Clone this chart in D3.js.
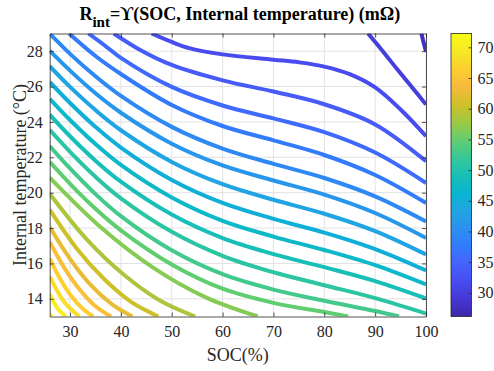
<!DOCTYPE html>
<html>
<head>
<meta charset="utf-8">
<script src="https://cdn.jsdelivr.net/npm/d3@7"></script>
<style>
  body { margin: 0; background: #fff; }
  svg { display: block; }
  text { font-family: "Liberation Serif", "Times New Roman", serif; fill: #262626; }
</style>
</head>
<body>
<svg id="chart" width="494" height="371"></svg>
<script>
// Tick labels
const socTicks = [30, 40, 50, 60, 70, 80, 90, 100];
const tempTicks = [14, 16, 18, 20, 22, 24, 26, 28];
const cbarTicks = [30, 35, 40, 45, 50, 55, 60, 65, 70];

// Axis ranges
const socDomain = [26, 100];
const tempDomain = [13, 29];
const cbarDomain = [26.15, 72.25];

// Contour levels (mOhm), low -> high
const levels = [28.0, 29.9, 31.8, 33.7, 35.7, 37.6, 39.5, 41.4, 43.3, 45.2, 47.1, 49.0,
                51.0, 52.9, 54.8, 56.7, 58.6, 60.5, 62.4, 64.3, 66.3, 68.2, 70.1, 72.0];

// Traced contour lines, [SOC, temperature] pairs, one list per level
const contourPaths = [
  [[99.1, 29], [99.5, 28.52], [100, 27.99]],
  [[88.6, 29], [91.3, 28.07], [94.3, 26.99], [97.2, 25.98], [100, 24.98]],
  [[46.05, 29], [50, 28.52], [53.6, 28.16], [60, 27.82], [70, 27.52], [75, 27.37], [80, 27.13], [85, 26.7], [90, 25.95], [95, 24.7], [100, 23.19]],
  [[38.6, 29], [43.8, 28.07], [50, 27.22], [60, 26.35], [70, 25.72], [80, 25.0], [90, 23.86], [100, 21.78]],
  [[33.6, 29], [36.7, 28.35], [40, 27.62], [50, 25.98], [60, 24.93], [70, 24.20], [80, 23.42], [90, 22.27], [100, 20.55]],
  [[29.8, 29], [35, 27.73], [40, 26.71], [50, 24.96], [60, 23.77], [70, 22.96], [80, 22.13], [90, 21.0], [100, 19.42]],
  [[26, 28.99], [30, 27.85], [35, 26.58], [40, 25.47], [50, 23.72], [60, 22.49], [70, 21.63], [80, 20.83], [90, 19.79], [100, 18.37]],
  [[26, 28.03], [30, 26.90], [35, 25.62], [40, 24.52], [50, 22.77], [60, 21.54], [70, 20.69], [80, 19.89], [90, 18.85], [100, 17.44]],
  [[26, 27.15], [30, 25.98], [35, 24.67], [40, 23.53], [50, 21.74], [60, 20.48], [70, 19.60], [80, 18.81], [90, 17.83], [100, 16.51]],
  [[26, 26.26], [30, 25.07], [35, 23.72], [40, 22.55], [50, 20.72], [60, 19.42], [70, 18.52], [80, 17.74], [90, 16.81], [100, 15.60]],
  [[26, 25.31], [30, 24.11], [35, 22.75], [40, 21.57], [50, 19.73], [60, 18.41], [70, 17.52], [80, 16.76], [90, 15.90], [100, 14.81]],
  [[26, 24.41], [30, 23.19], [35, 21.81], [40, 20.62], [50, 18.76], [60, 17.43], [70, 16.53], [80, 15.79], [90, 15.00], [100, 14.02]],
  [[26, 23.55], [30, 22.31], [35, 20.90], [40, 19.68], [50, 17.79], [60, 16.43], [70, 15.50], [80, 14.77], [90, 14.04], [100, 13.17]],
  [[26, 22.64], [30, 21.37], [35, 19.92], [40, 18.67], [50, 16.74], [60, 15.39], [70, 14.52], [80, 13.89], [90, 13.31], [94.7, 13.0]],
  [[26, 21.74], [30, 20.50], [35, 19.09], [40, 17.87], [50, 15.94], [60, 14.57], [70, 13.77], [80, 13.25], [84.7, 13.0]],
  [[26, 20.85], [36.2, 18.0], [46.4, 15.75], [56.7, 14.08], [66.9, 13.0]],
  [[26, 19.94], [33.1, 17.42], [40.3, 15.43], [47.4, 13.95], [54.6, 13.0]],
  [[26, 19.04], [31.3, 16.85], [36.7, 15.12], [42.0, 13.83], [47.35, 13.0]],
  [[26, 18.06], [30.1, 16.22], [34.1, 14.77], [38.2, 13.70], [42.24, 13.0]],
  [[26, 17.21], [29.0, 15.69], [32.0, 14.48], [35.0, 13.58], [38.05, 13.0]],
  [[26, 16.27], [28.14, 15.08], [30.29, 14.14], [32.43, 13.45], [34.57, 13.0]],
  [[26, 15.27], [28.91, 13.80], [31.82, 13.0]],
  [[26, 14.27], [27.57, 13.45], [29.15, 13.0]],
  [[26, 13.16], [26.35, 13.0]]
];

// parula colormap stops (MATLAB)
const parula = [
  [0.2422, 0.1504, 0.6603], [0.2706, 0.2147, 0.8364], [0.2813, 0.3006, 0.9414],
  [0.2699, 0.3892, 0.9906], [0.1963, 0.4847, 0.9892], [0.1687, 0.5703, 0.9359],
  [0.1248, 0.6459, 0.8883], [0.0297, 0.7082, 0.8163], [0.0964, 0.7500, 0.7120],
  [0.2161, 0.7843, 0.5923], [0.3909, 0.8029, 0.4354], [0.6174, 0.7876, 0.2612],
  [0.8203, 0.7498, 0.1535], [0.9728, 0.7298, 0.2394], [0.9892, 0.8136, 0.1885],
  [0.9631, 0.9135, 0.1423], [0.9769, 0.9839, 0.0805]
].map(c => d3.rgb(c[0] * 255, c[1] * 255, c[2] * 255).formatHex());

const width = 494, height = 371;
const margin = { top: 33.5, right: 68, bottom: 54.5, left: 49.7 };
const innerW = width - margin.left - margin.right;
const innerH = height - margin.top - margin.bottom;

const svg = d3.select('#chart');

const x = d3.scaleLinear().domain(socDomain).range([0, innerW]);
const y = d3.scaleLinear().domain(tempDomain).range([innerH, 0]);

const stopPos = parula.map((_, i) => i / (parula.length - 1));
const color = d3.scaleLinear()
    .domain(stopPos.map(p => cbarDomain[0] + p * (cbarDomain[1] - cbarDomain[0])))
    .range(parula)
    .interpolate(d3.interpolateRgb)
    .clamp(true);

const g = svg.append('g').attr('transform', `translate(${margin.left},${margin.top})`);

// Grid
g.append('g')
    .selectAll('line')
    .data(socTicks)
    .enter().append('line')
    .attr('x1', d => x(d)).attr('x2', d => x(d))
    .attr('y1', 0).attr('y2', innerH)
    .attr('stroke', '#e2e2e2').attr('stroke-width', 1);
g.append('g')
    .selectAll('line')
    .data(tempTicks)
    .enter().append('line')
    .attr('y1', d => y(d)).attr('y2', d => y(d))
    .attr('x1', 0).attr('x2', innerW)
    .attr('stroke', '#e2e2e2').attr('stroke-width', 1);

// Contours, clipped to the axes box
svg.append('defs').append('clipPath').attr('id', 'plotClip')
    .append('rect').attr('width', innerW).attr('height', innerH);

const line = d3.line()
    .x(d => x(d[0]))
    .y(d => y(d[1]))
    .curve(d3.curveCatmullRom.alpha(0.5));

g.append('g')
    .attr('clip-path', 'url(#plotClip)')
    .selectAll('path')
    .data(contourPaths)
    .enter().append('path')
    .attr('d', d => line(d))
    .attr('fill', 'none')
    .attr('stroke', (d, i) => color(levels[i]))
    .attr('stroke-width', 4);

// Axes (ticks inward, mirrored like a boxed MATLAB axes)
const tickLen = 4;
const axisColor = '#262626';

const xAxis = g.append('g')
    .attr('transform', `translate(0,${innerH})`)
    .call(d3.axisBottom(x).tickValues(socTicks).tickSizeInner(-tickLen).tickSizeOuter(0).tickPadding(9));
const yAxis = g.append('g')
    .call(d3.axisLeft(y).tickValues(tempTicks).tickSizeInner(-tickLen).tickSizeOuter(0).tickPadding(7));
const xTop = g.append('g')
    .call(d3.axisTop(x).tickValues(socTicks).tickSizeInner(-tickLen).tickSizeOuter(0).tickFormat(''));
const yRight = g.append('g')
    .attr('transform', `translate(${innerW},0)`)
    .call(d3.axisRight(y).tickValues(tempTicks).tickSizeInner(-tickLen).tickSizeOuter(0).tickFormat(''));

[xAxis, yAxis, xTop, yRight].forEach(a => {
    a.selectAll('.domain').attr('stroke', axisColor).attr('stroke-width', 0.8);
    a.selectAll('.tick line').attr('stroke', axisColor).attr('stroke-width', 0.8);
    a.selectAll('text')
        .attr('fill', '#262626')
        .style('font-family', '"Liberation Serif", "Times New Roman", serif')
        .style('font-size', '16px');
});

// Axis labels
svg.append('text')
    .attr('x', margin.left + innerW / 2)
    .attr('y', 361)
    .attr('text-anchor', 'middle')
    .style('font-size', '18px')
    .text('SOC(%)');

svg.append('text')
    .attr('transform', `translate(26,${margin.top + innerH / 2}) rotate(-90)`)
    .attr('text-anchor', 'middle')
    .style('font-size', '18px')
    .text('Internal temperature (°C)');

// Title
const title = svg.append('text')
    .attr('x', margin.left + innerW / 2 + 2)
    .attr('y', 19.5)
    .attr('text-anchor', 'middle')
    .style('font-size', '18px')
    .style('font-weight', 'bold')
    .style('fill', '#000');
title.append('tspan').text('R');
title.append('tspan').attr('dy', 7).style('font-size', '15px').text('int');
title.append('tspan').attr('dy', -7).text('=ϒ(SOC, Internal temperature) (mΩ)');

// Colorbar
const cbX = 451, cbW = 20.5;
const cb = svg.append('g').attr('transform', `translate(${cbX},${margin.top})`);
const cy = d3.scaleLinear().domain(cbarDomain).range([innerH, 0]);

const grad = svg.select('defs').append('linearGradient')
    .attr('id', 'cbGrad')
    .attr('x1', 0).attr('y1', 1).attr('x2', 0).attr('y2', 0);
grad.selectAll('stop')
    .data(parula)
    .enter().append('stop')
    .attr('offset', (d, i) => stopPos[i])
    .attr('stop-color', d => d);

cb.append('rect')
    .attr('width', cbW)
    .attr('height', innerH)
    .attr('fill', 'url(#cbGrad)');

const cbAxis = cb.append('g')
    .attr('transform', `translate(${cbW},0)`)
    .call(d3.axisRight(cy).tickValues(cbarTicks).tickSizeInner(-3).tickSizeOuter(0).tickPadding(6));
cbAxis.selectAll('.tick line').attr('stroke', axisColor).attr('stroke-width', 0.8);
cbAxis.select('.domain').remove();
cbAxis.selectAll('text')
    .attr('fill', '#262626')
    .style('font-family', '"Liberation Serif", "Times New Roman", serif')
    .style('font-size', '16px');

cb.append('rect')
    .attr('width', cbW)
    .attr('height', innerH)
    .attr('fill', 'none')
    .attr('stroke', axisColor)
    .attr('stroke-width', 0.8);
</script>
</body>
</html>
